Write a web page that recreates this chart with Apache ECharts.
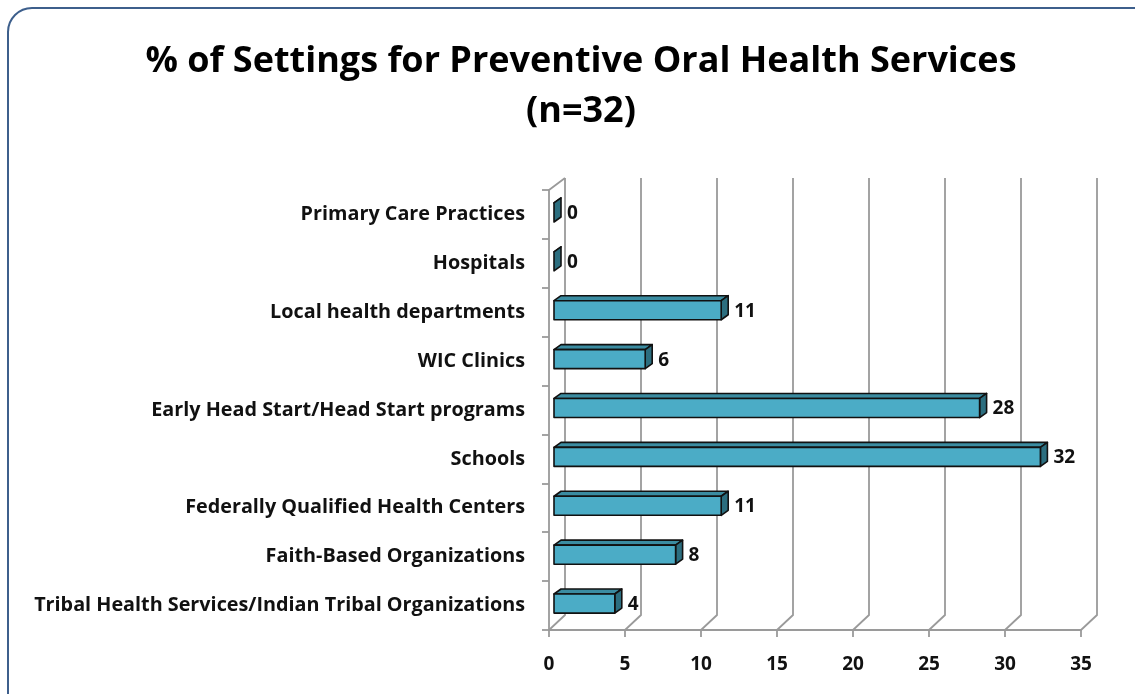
<!DOCTYPE html>
<html>
<head>
<meta charset="utf-8">
<script src="https://cdn.jsdelivr.net/npm/echarts@6/dist/echarts.min.js"></script>
<style>
  html, body { margin: 0; padding: 0; background: #fff; }
  #chart { width: 1135px; height: 694px; }
</style>
</head>
<body>
<div id="chart"></div>
<script>
// Settings offering preventive oral health services (count of 32)
const categories = [
  "Primary Care Practices",
  "Hospitals",
  "Local health departments",
  "WIC Clinics",
  "Early Head Start/Head Start programs",
  "Schools",
  "Federally Qualified Health Centers",
  "Faith-Based Organizations",
  "Tribal Health Services/Indian Tribal Organizations"
];
const values = [0, 0, 11, 6, 28, 32, 11, 8, 4];
const xTicks = [0, 5, 10, 15, 20, 25, 30, 35];

const FONT = "'Open Sans', 'Noto Sans', sans-serif";
// depth of the pseudo-3D back wall
const WALL_DX = 16, WALL_DY = -15, WALL_TOP_DY = -12;
const GRID_COLOR = '#9a9a9a';

const chart = echarts.init(document.getElementById('chart'));

function renderWall(params, api) {
  const v = api.value(0);
  const front = api.coord([v, categories.length - 1]);
  const cs = params.coordSys;
  const bottom = cs.y + cs.height;
  const top = cs.y;
  const x = front[0];
  const children = [{
    type: 'polyline',
    shape: { points: [[x + WALL_DX, top + WALL_TOP_DY], [x + WALL_DX, bottom + WALL_DY], [x, bottom]] },
    style: { stroke: GRID_COLOR, lineWidth: 1.8, fill: null }
  }];
  if (v === 0) {
    // left wall: front edge and top edge
    children.push({
      type: 'polyline',
      shape: { points: [[x + WALL_DX, top + WALL_TOP_DY], [x, top], [x, bottom]] },
      style: { stroke: GRID_COLOR, lineWidth: 1.8, fill: null }
    });
  }
  return { type: 'group', children: children };
}

function renderBar(params, api) {
  const idx = api.value(1);
  const val = api.value(0);
  const p0 = api.coord([0, idx]);
  const p1 = api.coord([val, idx]);
  const band = api.size([0, 1])[1];
  const h = band * 0.39;
  const ox = 5, oy = -2;       // front face offset into the depth
  const dx = 7, dy = -5;       // bar depth
  const x0 = p0[0] + ox, x1 = p1[0] + ox;
  const yTop = p0[1] - h / 2 + oy, yBot = p0[1] + h / 2 + oy;
  const stroke = { stroke: '#111', lineWidth: 1.6, lineJoin: 'round' };
  return {
    type: 'group',
    children: [
      { type: 'polygon', shape: { points: [[x0, yTop], [x1, yTop], [x1 + dx, yTop + dy], [x0 + dx, yTop + dy]] },
        style: Object.assign({ fill: '#3b8ca1' }, stroke) },
      { type: 'polygon', shape: { points: [[x1, yTop], [x1 + dx, yTop + dy], [x1 + dx, yBot + dy], [x1, yBot]] },
        style: Object.assign({ fill: '#2c6e7f' }, stroke) },
      { type: 'rect', shape: { x: x0, y: yTop, width: Math.max(x1 - x0, 0), height: h },
        style: Object.assign({ fill: '#4bacc6' }, stroke), invisible: val === 0 },
      { type: 'text', x: x1 + dx + 6, y: (yTop + yBot) / 2 + 1,
        style: { text: String(val), font: "bold 19px " + FONT, fill: '#111', verticalAlign: 'middle', align: 'left' } }
    ]
  };
}

chart.setOption({
  animation: false,
  graphic: [{
    type: 'rect', z: -10,
    shape: { x: 8, y: 8, width: 1150, height: 710, r: 24 },
    style: { fill: '#fff', stroke: '#3d5f8c', lineWidth: 2 }
  }],
  title: {
    text: '% of Settings for Preventive Oral Health Services\n(n=32)',
    left: 576, top: 32, textAlign: 'center',
    textStyle: { fontFamily: FONT, fontWeight: 'bold', fontSize: 36, color: '#000', lineHeight: 50 }
  },
  grid: { left: 549, right: 54, top: 190, bottom: 64 },
  xAxis: {
    type: 'value', min: 0, max: 35, interval: 5,
    axisLine: { show: true, lineStyle: { color: GRID_COLOR, width: 1.8 } },
    axisTick: { show: true, length: 7, lineStyle: { color: GRID_COLOR, width: 1.8 } },
    splitLine: { show: false },
    axisLabel: { margin: 25, fontFamily: FONT, fontWeight: 'bold', fontSize: 19, color: '#111',
      formatter: v => xTicks.includes(v) ? String(v) : '' }
  },
  yAxis: {
    type: 'category', data: categories, inverse: true,
    axisLine: { show: false },
    axisTick: { show: true, length: 7, lineStyle: { color: GRID_COLOR, width: 1.8 } },
    axisLabel: { margin: 24, fontFamily: FONT, fontWeight: 'bold', fontSize: 19.8, color: '#111' },
    splitLine: { show: false }
  },
  series: [
    {
      type: 'custom', renderItem: renderWall, z: 1, silent: true,
      data: xTicks.map(t => [t, 0]), encode: { x: 0, y: 1 }
    },
    {
      type: 'custom', renderItem: renderBar, z: 5,
      data: values.map((v, i) => [v, i]), encode: { x: 0, y: 1 }
    }
  ]
});
</script>
</body>
</html>
